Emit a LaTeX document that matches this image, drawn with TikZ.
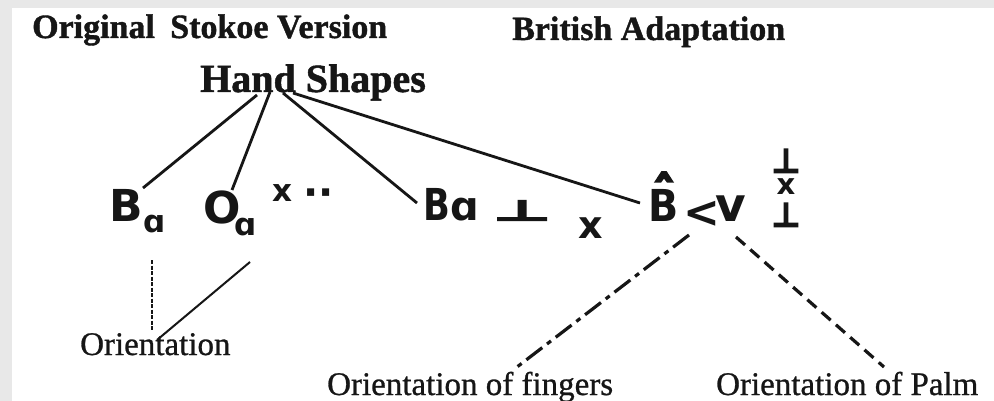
\documentclass[tikz,border=0pt]{standalone}
\usepackage{fontspec}
\setmainfont{Liberation Serif}
\newfontfamily\symf{DejaVu Sans}
\newfontfamily\symfb[FakeBold=8]{DejaVu Sans}
\newfontfamily\lblf[FakeBold=0.8]{Liberation Serif}
\newfontfamily\ttlf[FakeBold=1.2]{Liberation Serif Bold}
\usetikzlibrary{calc}
\definecolor{ink}{HTML}{161616}
\definecolor{frame}{HTML}{E8E8E8}
\tikzset{
  lbl/.style={inner sep=0pt, anchor=base west, text=ink},
  ttl/.style={lbl, font=\ttlf\fontsize{34}{36}\selectfont},
  orient/.style={lbl, font=\lblf\fontsize{33}{36}\selectfont},
  sym/.style={lbl, font=\symf\bfseries\fontsize{44}{46}\selectfont},
  symsm/.style={lbl, font=\symf\bfseries\fontsize{31}{34}\selectfont},
  symbar/.style={lbl, anchor=base, font=\symfb\fontsize{32}{32}\selectfont},
  tree/.style={draw=ink, line width=2.8pt},
  thinln/.style={draw=ink, line width=2pt},
  dotln/.style={draw=ink, line width=2.6pt, dash pattern=on 4pt off 1.5pt},
  dashdotln/.style={draw=ink, line width=3.2pt, dash pattern=on 20pt off 6pt on 5pt off 6pt},
  dashln/.style={draw=ink, line width=3.2pt, dash pattern=on 12pt off 7pt}
}
\begin{document}
\begin{tikzpicture}[x=1pt,y=-1pt]
\useasboundingbox (0,0) rectangle (994,401);
\fill[frame] (0,0) rectangle (994,401);
\fill[white] (12,8) rectangle (994,401);
% titles
\node[ttl] (orig) at (32,38) {Original\hspace{0.45em}Stokoe Version};
\node[ttl] (brit) at (512,40) {British Adaptation};
\node[ttl, font=\ttlf\fontsize{40}{44}\selectfont] (hs) at (200,92) {Hand Shapes};
% Stokoe symbols
\node[sym] (sB) at (109,222) {B};
\node[symsm] (sBa) at (143,233) {ɑ};
\node[sym] (sO) at (203,223) {O};
\node[symsm] (sOa) at (234,235) {ɑ};
\node[symsm] (sx) at (272,202) {x};
\node[symsm, font=\symf\bfseries\fontsize{40}{40}\selectfont] (sdots) at (303,207) {··};
% British symbols
\node[sym] (bB) at (423,220) {\scalebox{0.8}[1]{B}};
\node[sym, font=\symf\bfseries\fontsize{40}{42}\selectfont] (ba) at (450,220) {ɑ};
\node[symbar, anchor=base west, font=\symfb\fontsize{40}{40}\selectfont] (bT) at (494,220) {\scalebox{1.6}[0.68]{⊥}};
\node[sym, font=\symf\bfseries\fontsize{38}{40}\selectfont] (bx) at (578,238) {x};
\node[sym] (hB) at (648,222) {\scalebox{0.9}[1]{B}};
\node[symbar, font=\symfb\fontsize{44}{44}\selectfont] (hat) at (664,208) {ˆ};
\node[sym] (lt) at (683,227) {<};
\node[sym, font=\symf\bfseries\fontsize{47}{50}\selectfont] (vv) at (715,222) {v};
\node[symbar] (t1) at (786,172) {⊥};
\node[symsm, font=\symf\bfseries\fontsize{29}{30}\selectfont, anchor=base] (t2) at (786,195) {x};
\node[symbar] (t3) at (786,226) {⊥};
% bottom labels
\node[orient] (or1) at (80,355) {Orientation};
\node[orient] (or2) at (327,395) {Orientation of fingers};
\node[orient] (or3) at (716,395) {Orientation of Palm};
% connector end points
\coordinate (h1) at (257,95);
\coordinate (h2) at (270,92);
\coordinate (h3) at (283,93);
\coordinate (h4) at (293,93);
\coordinate (e1) at (143,188);
\coordinate (e2) at (232,190);
\coordinate (e3) at (417,203);
\coordinate (e4) at (640,203);
\coordinate (d1a) at (152,260);
\coordinate (d1b) at (152,330);
\coordinate (d2a) at (250,262);
\coordinate (d2b) at (157,340);
\coordinate (d3a) at (689,235);
\coordinate (d3b) at (517,367);
\coordinate (d4a) at (736,237);
\coordinate (d4b) at (884,367);
% tree lines
\draw[tree] (h1) -- (e1);
\draw[tree] (h2) -- (e2);
\draw[tree] (h3) -- (e3);
\draw[tree] (h4) -- (e4);
% orientation lines
\draw[dotln] (d1a) -- (d1b);
\draw[thinln] (d2a) -- (d2b);
\draw[dashdotln] (d3a) -- (d3b);
\draw[dashln] (d4a) -- (d4b);
\end{tikzpicture}
\end{document}
